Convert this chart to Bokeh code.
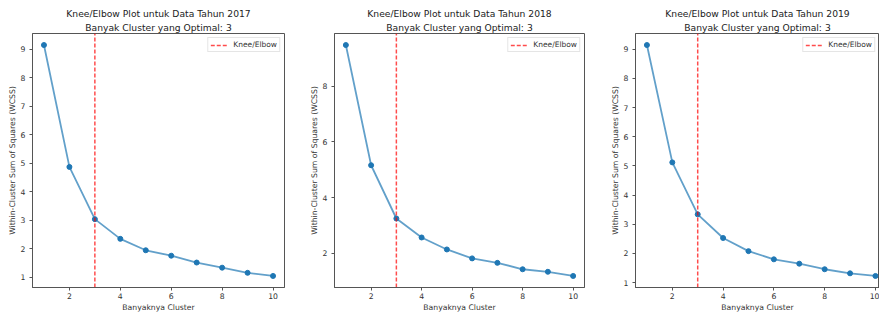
from bokeh.plotting import figure
from bokeh.layouts import row
from bokeh.models import Range1d, FixedTicker, Legend, LegendItem, Title
from bokeh.embed import file_html
from bokeh.resources import INLINE

# ---- data ----
k_values = [1, 2, 3, 4, 5, 6, 7, 8, 9, 10]
wcss_2017 = [9.14, 4.87, 3.04, 2.35, 1.95, 1.76, 1.52, 1.34, 1.16, 1.05]
wcss_2018 = [9.47, 5.16, 3.25, 2.57, 2.14, 1.82, 1.66, 1.43, 1.34, 1.19]
wcss_2019 = [9.14, 5.12, 3.34, 2.53, 2.08, 1.80, 1.65, 1.46, 1.32, 1.23]
years = ["2017", "2018", "2019"]
optimal_k = [3, 3, 3]
x_ticks = [2, 4, 6, 8, 10]
y_ticks_2017 = [1, 2, 3, 4, 5, 6, 7, 8, 9]
y_ticks_2018 = [2, 4, 6, 8]
y_ticks_2019 = [1, 2, 3, 4, 5, 6, 7, 8, 9]
x_label = "Banyaknya Cluster"
y_label = "Within-Cluster Sum of Squares (WCSS)"
legend_label = "Knee/Elbow"

FONT = "DejaVu Sans"
BLUE = "#1f77b4"


def make_panel(year, wcss, yticks, opt, width, left, right, x_end=None):
    lo, hi = min(wcss), max(wcss)
    ym = (hi - lo) * 0.05
    y0, y1 = lo - ym, hi + ym
    xm = (max(k_values) - min(k_values)) * 0.05
    x0 = min(k_values) - xm
    x1 = x_end if x_end is not None else max(k_values) + xm

    p = figure(width=width, height=314, output_backend="svg", toolbar_location=None,
               title=None,
               x_range=Range1d(x0, x1), y_range=Range1d(y0, y1),
               min_border_left=left, min_border_right=right,
               min_border_top=33, min_border_bottom=27)

    line2 = Title(text=f"Banyak Cluster yang Optimal: {opt}", align="center")
    line1 = Title(text=f"Knee/Elbow Plot untuk Data Tahun {year}", align="center")
    for t, so in ((line2, 2), (line1, 0)):
        t.text_font = FONT
        t.text_font_size = "9.2px"
        t.text_font_style = "normal"
        t.text_color = "#222222"
        t.standoff = so
        t.offset = 0
    p.add_layout(line2, "above")
    p.add_layout(line1, "above")

    p.xgrid.visible = False
    p.ygrid.visible = False
    p.outline_line_color = "#555555"
    p.outline_line_width = 1
    p.background_fill_color = "white"
    p.border_fill_color = "white"

    p.xaxis.ticker = FixedTicker(ticks=x_ticks)
    p.yaxis.ticker = FixedTicker(ticks=yticks)
    for ax in (p.xaxis, p.yaxis):
        ax.axis_line_color = "#555555"
        ax.major_tick_line_color = "#555555"
        ax.major_tick_out = 3
        ax.major_tick_in = 0
        ax.minor_tick_line_color = None
        ax.major_label_text_font = FONT
        ax.major_label_text_font_size = "7.7px"
        ax.major_label_text_color = "#333333"
        ax.axis_label_text_font = FONT
        ax.axis_label_text_font_size = "7.7px"
        ax.axis_label_text_font_style = "normal"
        ax.axis_label_text_color = "#333333"
    p.xaxis.major_label_standoff = 2
    p.xaxis.axis_label_standoff = 1
    p.yaxis.major_label_standoff = 4
    p.yaxis.axis_label_standoff = 1
    p.xaxis.axis_label = x_label
    p.yaxis.axis_label = y_label

    p.line(k_values, wcss, line_color=BLUE, line_width=1.8, line_alpha=0.7)
    p.scatter(k_values, wcss, size=5, fill_color=BLUE, line_color=BLUE)
    r = p.line([opt, opt], [y0, y1], line_color="red", line_dash="4 2",
               line_width=1.5, line_alpha=0.7)

    legend = Legend(items=[LegendItem(label=legend_label, renderers=[r])],
                    location="top_right")
    legend.border_line_color = "#cccccc"
    legend.border_line_width = 1
    legend.background_fill_alpha = 0.9
    legend.label_text_font = FONT
    legend.label_text_font_size = "7.5px"
    legend.label_text_color = "#333333"
    legend.glyph_width = 18
    legend.glyph_height = 8
    legend.label_height = 8
    legend.label_standoff = 5
    legend.padding = 2
    legend.margin = 4
    legend.spacing = 0
    p.add_layout(legend)
    return p


p1 = make_panel(years[0], wcss_2017, y_ticks_2017, optimal_k[0], 295, 32, 11)
p2 = make_panel(years[1], wcss_2018, y_ticks_2018, optimal_k[1], 295, 39, 6)
p3 = make_panel(years[2], wcss_2019, y_ticks_2019, optimal_k[2], 289, 45, 0,
                x_end=10.16)

layout = row(p1, p2, p3, spacing=0)
open("out.html", "w").write(file_html(layout, INLINE))
